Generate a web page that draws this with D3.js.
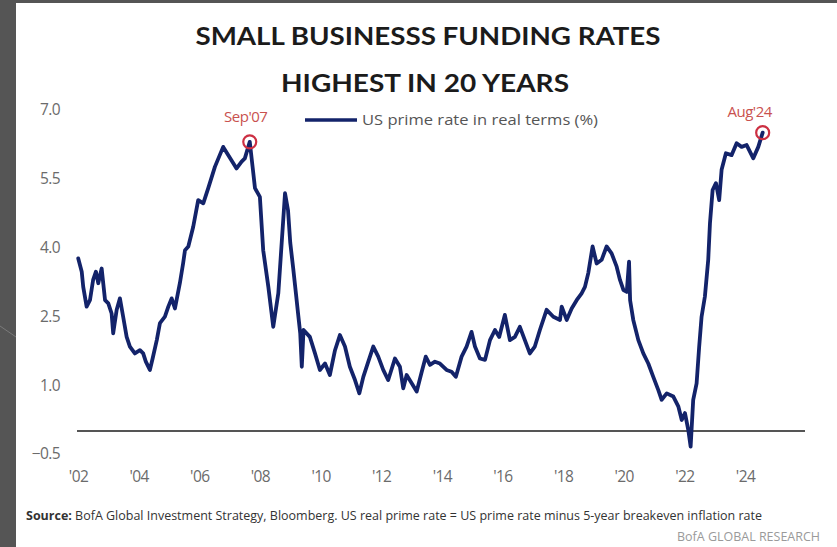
<!DOCTYPE html>
<html>
<head>
<meta charset="utf-8">
<script src="https://cdn.jsdelivr.net/npm/d3@7"></script>
<style>
  html, body { margin: 0; padding: 0; background: #555555; }
  svg { display: block; }
</style>
</head>
<body>
<svg id="chart" width="837" height="547"></svg>
<script>
// US prime rate in real terms (%), sampled along the series
const dates = [
  "2002-01-04","2002-02-15","2002-03-05","2002-04-15","2002-05-25","2002-07-02","2002-08-05","2002-09-02",
  "2002-10-13","2002-11-23","2003-01-01","2003-02-10","2003-03-01","2003-04-12","2003-05-21","2003-06-29",
  "2003-08-10","2003-09-18","2003-11-17","2004-01-17","2004-02-25","2004-03-28","2004-05-16","2004-06-18",
  "2004-08-07","2004-09-14","2004-11-13","2004-12-24","2005-02-02","2005-03-14","2005-05-12","2005-06-20",
  "2005-07-13","2005-08-22","2005-10-20","2005-12-19","2006-02-18","2006-04-19","2006-07-09","2006-10-16",
  "2007-03-26","2007-05-26","2007-07-04","2007-09-01","2007-10-05","2007-11-03","2008-01-01","2008-02-10",
  "2008-04-12","2008-06-10","2008-08-10","2008-10-30","2008-12-05","2009-01-01","2009-02-05","2009-03-10",
  "2009-04-05","2009-05-01","2009-05-20","2009-06-10","2009-08-25","2009-10-26","2009-12-24","2010-02-24",
  "2010-04-23","2010-06-24","2010-08-22","2010-10-22","2010-12-20","2011-02-20","2011-04-13","2011-05-31",
  "2011-07-30","2011-09-28","2011-11-27","2012-01-26","2012-03-26","2012-06-15","2012-08-14","2012-09-23",
  "2012-11-03","2013-01-03","2013-03-04","2013-05-04","2013-06-21","2013-08-11","2013-10-10","2013-12-09",
  "2014-02-27","2014-04-28","2014-06-19","2014-08-27","2014-10-26","2014-12-25","2015-02-04","2015-04-05",
  "2015-06-05","2015-08-04","2015-10-03","2015-11-23","2016-01-30","2016-03-31","2016-05-30","2016-07-29",
  "2016-09-27","2016-11-26","2017-01-25","2017-03-27","2017-06-16","2017-09-05","2017-11-24","2017-12-15",
  "2018-02-13","2018-04-14","2018-06-13","2018-08-12","2018-09-21","2018-10-31","2018-12-22","2019-02-09",
  "2019-04-10","2019-06-09","2019-08-08","2019-10-08","2019-11-17","2019-12-29","2020-02-07","2020-03-05",
  "2020-03-18","2020-04-25","2020-06-25","2020-08-24","2020-10-23","2020-12-22","2021-02-21","2021-04-02",
  "2021-06-02","2021-08-21","2021-10-21","2021-11-30","2022-01-08","2022-02-17","2022-03-17","2022-04-17",
  "2022-05-28","2022-06-28","2022-07-27","2022-09-05","2022-10-15","2022-11-05","2022-12-07","2023-01-16",
  "2023-02-24","2023-03-25","2023-05-16","2023-07-23","2023-09-22","2023-11-21","2024-01-21","2024-04-10",
  "2024-06-09","2024-08-01"
];
const values = [
  3.76,3.47,3.14,2.71,2.85,3.29,3.47,3.22,
  3.54,2.85,2.78,2.56,2.13,2.64,2.89,2.49,
  2.05,1.84,1.69,1.76,1.69,1.51,1.33,1.58,
  1.98,2.35,2.49,2.71,2.89,2.67,3.22,3.65,
  3.94,4.02,4.45,5.03,4.96,5.29,5.76,6.19,
  5.72,5.87,5.94,6.30,5.76,5.29,5.10,3.94,
  3.14,2.27,3.00,5.18,4.81,4.10,3.55,3.00,
  2.56,2.13,1.40,2.20,2.05,1.69,1.33,1.47,
  1.22,1.76,2.09,1.84,1.40,1.11,0.82,1.18,
  1.51,1.84,1.62,1.33,1.11,1.58,1.40,0.93,
  1.22,1.04,0.86,1.29,1.62,1.44,1.51,1.47,
  1.33,1.29,1.18,1.62,1.84,2.16,1.84,1.58,
  1.55,1.98,2.20,2.05,2.53,1.98,2.05,2.27,
  1.98,1.69,1.84,2.20,2.64,2.49,2.42,2.71,
  2.42,2.67,2.85,3.00,3.14,3.44,4.02,3.65,
  3.73,4.02,3.87,3.58,3.29,3.07,3.03,3.69,
  2.85,2.42,1.98,1.69,1.47,1.18,0.89,0.68,
  0.82,0.75,0.53,0.24,0.39,0.02,-0.34,0.68,
  1.04,1.84,2.49,2.93,3.73,4.53,5.25,5.40,
  5.03,5.69,6.05,6.01,6.27,6.19,6.23,5.94,
  6.19,6.50
];

// Axis ticks
const yTicks = [-0.5, 1.0, 2.5, 4.0, 5.5, 7.0];
const xTickYears = [2002, 2004, 2006, 2008, 2010, 2012, 2014, 2016, 2018, 2020, 2022, 2024];
const xTickLabels = ["'02", "'04", "'06", "'08", "'10", "'12", "'14", "'16", "'18", "'20", "'22", "'24"];

// Highlighted observations
const calloutDates = ["2007-09-01", "2024-08-01"];
const calloutLabels = ["Sep'07", "Aug'24"];

const titleLines = ["SMALL BUSINESSS FUNDING RATES", "HIGHEST IN 20 YEARS"];
const legendLabel = "US prime rate in real terms (%)";
const sourceLead = "Source:";
const sourceText = " BofA Global Investment Strategy, Bloomberg. US real prime rate = US prime rate minus 5-year breakeven inflation rate";
const brand = "BofA GLOBAL RESEARCH";

const parse = d3.timeParse("%Y-%m-%d");
const series = dates.map((d, i) => ({ date: parse(d), value: values[i] }));

const svg = d3.select("#chart");
const NAVY = "#13236a";
const RED = "#cc2f42";
const LABEL = "#6b6b6b";
const tickFont = "'Open Sans', 'Liberation Sans', sans-serif";

// Slide frame: dark backdrop with white card
svg.append("rect").attr("width", 837).attr("height", 547).attr("fill", "#555555");
svg.append("line").attr("x1", 0).attr("y1", 326).attr("x2", 16).attr("y2", 337)
  .attr("stroke", "rgba(255,255,255,0.22)").attr("stroke-width", 1);
svg.append("rect").attr("x", 16).attr("y", 3).attr("width", 821).attr("height", 544).attr("fill", "#ffffff");

const x = d3.scaleTime()
  .domain([new Date(2002, 0, 1), new Date(2024, 0, 1)])
  .range([78, 745]);
const y = d3.scaleLinear()
  .domain([0, 7])
  .range([431, 109.7]);

// Title
const titleFont = "Lato, 'Open Sans', sans-serif";
svg.append("text")
  .attr("x", 428).attr("y", 45)
  .attr("text-anchor", "middle")
  .attr("font-family", titleFont).attr("font-weight", 700).attr("font-size", 25)
  .attr("fill", "#1b1b1b")
  .attr("textLength", 465).attr("lengthAdjust", "spacingAndGlyphs")
  .text(titleLines[0]);
svg.append("text")
  .attr("x", 425).attr("y", 92)
  .attr("text-anchor", "middle")
  .attr("font-family", titleFont).attr("font-weight", 700).attr("font-size", 25)
  .attr("fill", "#1b1b1b")
  .attr("textLength", 288).attr("lengthAdjust", "spacingAndGlyphs")
  .text(titleLines[1]);

// Y axis labels
const yAxis = d3.axisLeft(y)
  .tickValues(yTicks)
  .tickFormat(d3.format(".1f"))
  .tickSize(0)
  .tickPadding(0);
const gy = svg.append("g").attr("transform", "translate(60,0)").call(yAxis);
gy.select(".domain").remove();
gy.selectAll("text")
  .attr("font-family", tickFont).attr("font-size", 15.5)
  .attr("fill", LABEL).attr("letter-spacing", -0.6);

// X axis labels
const xAxis = d3.axisBottom(x)
  .tickValues(xTickYears.map(yr => new Date(yr, 0, 1)))
  .tickFormat((d, i) => xTickLabels[i])
  .tickSize(0)
  .tickPadding(0);
const gx = svg.append("g").attr("transform", "translate(0,471)").call(xAxis);
gx.select(".domain").remove();
gx.selectAll("text")
  .attr("font-family", tickFont).attr("font-size", 15.5)
  .attr("fill", LABEL).attr("letter-spacing", -0.6);

// Zero line
svg.append("line")
  .attr("x1", 77).attr("x2", 805)
  .attr("y1", y(0)).attr("y2", y(0))
  .attr("stroke", "#555555").attr("stroke-width", 2);

// Series line
const line = d3.line()
  .x(d => x(d.date))
  .y(d => y(d.value))
  .curve(d3.curveLinear);
svg.append("path")
  .datum(series)
  .attr("d", line)
  .attr("fill", "none")
  .attr("stroke", NAVY)
  .attr("stroke-width", 3.8)
  .attr("stroke-linejoin", "round")
  .attr("stroke-linecap", "round");

// Callouts: ring on the point, label above (the last one sits up and to the left)
calloutDates.forEach((d, i) => {
  const pt = series.find(s => +s.date === +parse(d));
  const cx = x(pt.date), cy = y(pt.value);
  const last = i === calloutDates.length - 1;
  svg.append("circle")
    .attr("cx", cx).attr("cy", cy).attr("r", 6.5)
    .attr("fill", "none").attr("stroke", RED).attr("stroke-width", 2.2);
  svg.append("text")
    .attr("x", last ? cx - 13 : cx - 4)
    .attr("y", last ? cy - 16 : cy - 20)
    .attr("text-anchor", "middle")
    .attr("font-family", tickFont).attr("font-size", 15)
    .attr("fill", "#c9514f").attr("letter-spacing", -0.5)
    .text(calloutLabels[i]);
});

// Legend
svg.append("line")
  .attr("x1", 305).attr("x2", 357).attr("y1", 120).attr("y2", 120)
  .attr("stroke", NAVY).attr("stroke-width", 3.4);
svg.append("text")
  .attr("x", 362).attr("y", 125)
  .attr("font-family", tickFont).attr("font-size", 15)
  .attr("fill", "#555555")
  .attr("textLength", 236).attr("lengthAdjust", "spacingAndGlyphs")
  .text(legendLabel);

// Source and branding
const src = svg.append("text")
  .attr("x", 26).attr("y", 520)
  .attr("font-family", tickFont).attr("font-size", 12.5)
  .attr("fill", "#333333")
  .attr("textLength", 736).attr("lengthAdjust", "spacingAndGlyphs");
src.append("tspan").attr("font-weight", 700).text(sourceLead);
src.append("tspan").text(sourceText);

svg.append("text")
  .attr("x", 820).attr("y", 541)
  .attr("text-anchor", "end")
  .attr("font-family", tickFont).attr("font-size", 12.5)
  .attr("fill", "#9a9a9a")
  .attr("textLength", 143).attr("lengthAdjust", "spacingAndGlyphs")
  .text(brand);
</script>
</body>
</html>
